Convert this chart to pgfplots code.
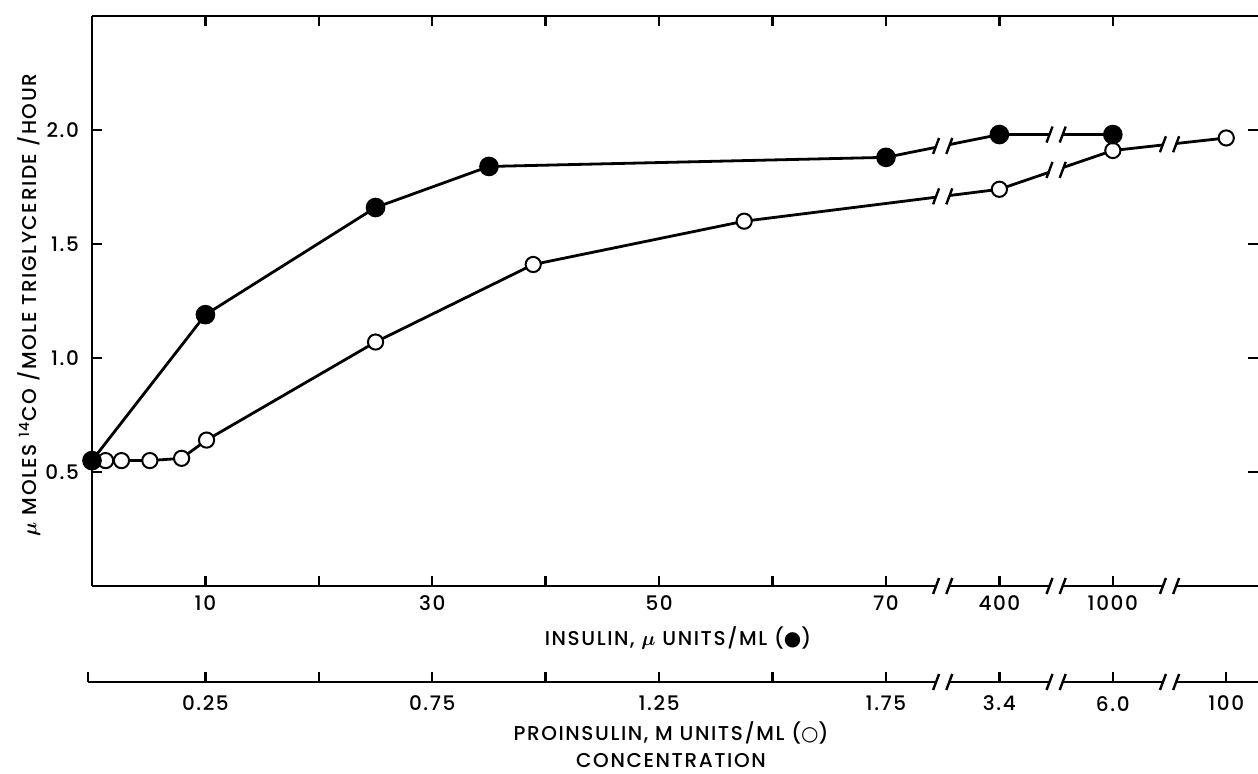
\documentclass[border=0pt]{standalone}
\usepackage{amsmath}
\usepackage{pgfplots}
\pgfplotsset{compat=1.18}
\usepackage{fontspec}
\setmainfont{Poppins}[UprightFont={* Medium}, LetterSpace=8]
\newfontfamily\sym{DejaVu Sans}
\newcommand\lab{\fontsize{10}{12}\selectfont}
% axis break "//" at a data point
\newcommand\brk[2]{%
  \fill[white] (axis cs:#1,#2) ++(-3.2pt,-6pt) rectangle ++(6.4pt,12pt);
  \draw[line width=1.2pt] (axis cs:#1,#2) ++(-4.8pt,-4pt) -- ++(3pt,8pt);
  \draw[line width=1.2pt] (axis cs:#1,#2) ++(1.8pt,-4pt) -- ++(3pt,8pt);}

\pgfplotstableread{
pos val
0    0.55
10   1.19
25   1.66
35   1.84
70   1.88
80   1.98
90   1.98
}\insulin
\pgfplotstableread{
pos val
1.2  0.55
2.6  0.55
5.1  0.55
7.9  0.56
10.1 0.64
25   1.07
38.9 1.41
57.5 1.60
80   1.74
90   1.91
100  1.965
}\proins

\begin{document}
\begin{tikzpicture}
\pgfplotsset{
  base/.style={scale only axis, ymin=0,
    every tick/.style={line width=1.2pt, black},
    major tick length=5pt, tick align=inside,
    tick label style={font=\lab}, clip=false}}
% main axis
\begin{axis}[base,
  width=583pt, height=285pt,
  xmin=0, xmax=102.8, ymax=2.5,
  axis x line*=box, axis y line*=left,
  axis line style={line width=1.3pt},
  xtick={10,20,...,90}, xticklabels={10,{},30,{},50,{},70,400,1000},
  ytick={0.5,1,1.5,2}, yticklabels={0.5,1.0,1.5,2.0},
  xticklabel style={yshift=-1.5pt}, yticklabel style={xshift=-3pt}]
\addplot[line width=1.4pt, mark=*, mark size=3.8pt,
  mark options={fill=white, draw=black, line width=1pt}] table[x=pos, y=val] {\proins};
\addplot[line width=1.4pt, mark=*, mark size=4.2pt,
  mark options={fill=black}] table[x=pos, y=val] {\insulin};
\brk{75}{1.93}
\brk{85}{1.98}
\brk{75}{1.709}
\brk{85}{1.825}
\brk{95}{1.9375}
\brk{75}{0}
\brk{85}{0}
\brk{95}{0}
\end{axis}
% right-hand ticks, no line
\begin{axis}[base,
  width=583pt, height=285pt,
  xmin=0, xmax=102.8, ymax=2.5,
  axis x line=none, axis y line*=right,
  y axis line style={draw=none},
  ytick={0.5,1,1.5,2}, yticklabels={}]
\end{axis}
% second (proinsulin) scale
\begin{axis}[base, at={(-2pt,-48pt)},
  width=585pt, height=10pt,
  xmin=-0.35, xmax=102.8, ymax=1,
  axis y line=none, axis x line*=bottom,
  axis line style={line width=1.3pt},
  xtick={-0.35,10,20,...,100},
  xticklabels={{},0.25,{},0.75,{},1.25,{},1.75,3.4,6.0,100},
  xticklabel style={yshift=-3.5pt}]
\brk{75}{0}
\brk{85}{0}
\brk{95}{0}
\end{axis}
\node[font=\lab] at (293pt,-26pt) {INSULIN, $\boldsymbol{\mu}$ UNITS/ML ({\sym ●})};
\node[font=\lab] at (289.5pt,-73.5pt) {PROINSULIN, M UNITS/ML ({\sym ○})};
\node[font=\lab] at (289.5pt,-87.5pt) {CONCENTRATION};
\node[font=\lab, rotate=90] at (-31.5pt,140.5pt)
  {$\boldsymbol{\mu}$ MOLES \textsuperscript{14}CO /MOLE TRIGLYCERIDE /HOUR};
\pgfresetboundingbox
\path[use as bounding box] (-46pt,-94pt) rectangle (583pt,293pt);
\end{tikzpicture}
\end{document}
